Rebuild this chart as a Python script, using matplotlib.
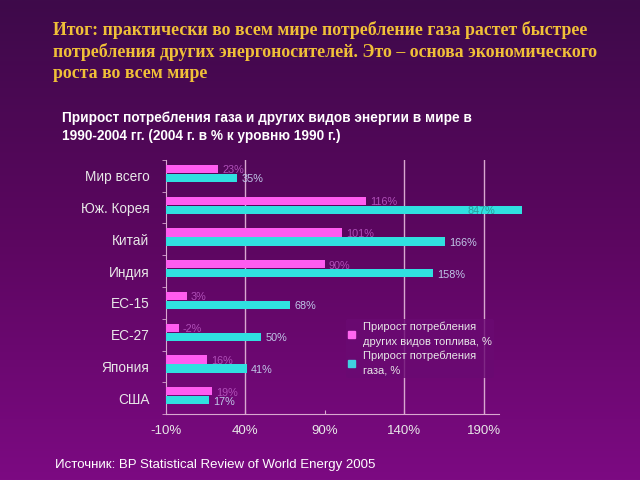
import matplotlib
matplotlib.use("Agg")
import matplotlib.pyplot as plt
import numpy as np
from matplotlib.colors import LinearSegmentedColormap
from matplotlib.patches import Patch

categories = ["Мир всего", "Юж. Корея", "Китай", "Индия", "ЕС-15", "ЕС-27", "Япония", "США"]
other_fuels = [23, 116, 101, 90, 3, -2, 16, 19]
gas = [35, 847, 166, 158, 68, 50, 41, 17]
other_labels = ["23%", "116%", "101%", "90%", "3%", "-2%", "16%", "19%"]
gas_labels = ["35%", "847%", "166%", "158%", "68%", "50%", "41%", "17%"]
xticks = [-10, 40, 90, 140, 190]
xtick_labels = ["-10%", "40%", "90%", "140%", "190%"]
grid_x = [40, 140, 190]

plt.rcParams['font.family'] = ['Liberation Sans', 'DejaVu Sans']

fig = plt.figure(figsize=(6.4, 4.8), dpi=100)

# background gradient
bg = fig.add_axes([0, 0, 1, 1], zorder=-10)
cmap = LinearSegmentedColormap.from_list("bg", ["#3e0a4a", "#5c0660", "#7c0a82"])
grad = np.linspace(0, 1, 256).reshape(-1, 1)
bg.imshow(grad, aspect='auto', cmap=cmap, extent=[0, 1, 0, 1], origin='upper')
bg.axis('off')

ax = fig.add_axes([166/640, 66/480, 356/640, 254/480])
ax.patch.set_alpha(0)

y = np.arange(len(categories))
h = 0.26
base = -10
mag_color = "#ff5cf0"
cyan_color = "#30e0e0"

ax.barh(y - 0.22, np.array(other_fuels) - base, left=base, height=h, color=mag_color, zorder=3)
ax.barh(y + 0.07, np.array(gas) - base, left=base, height=h, color=cyan_color, zorder=3)

xmax = 214.2
ax.set_xlim(-10, xmax)
ax.set_ylim(len(categories) - 0.5, -0.5)

for xi in grid_x:
    ax.axvline(xi, color="#d8a8d0", lw=1, zorder=1)

for i in range(len(categories)):
    ax.annotate(other_labels[i], (other_fuels[i], y[i] - 0.22), xytext=(3, -1),
                textcoords='offset points', va='center', ha='left',
                fontsize=7.8, color="#b050b8", zorder=4)
    if gas[i] > 200:
        ax.text(180, y[i] + 0.07 + 0.03, gas_labels[i], va='center', ha='left',
                fontsize=7.8, color="#2a9a9a", zorder=4)
    else:
        ax.annotate(gas_labels[i], (gas[i], y[i] + 0.07), xytext=(3, -1),
                    textcoords='offset points', va='center', ha='left',
                    fontsize=7.8, color="#c0c8e8", zorder=4)

ax.set_xticks(xticks)
ax.set_xticklabels(xtick_labels, fontsize=9.5, color="#e8e8e8")
ax.set_yticks(y)
ax.set_yticklabels(categories, fontsize=9.8, color="#e8e8e8")
ax.tick_params(axis='y', length=0, pad=12)
ax.tick_params(axis='x', length=3, direction='in', color="#d8a8d0", pad=8)
ax.set_yticks(np.arange(len(categories) + 1) - 0.5, minor=True)
ax.tick_params(axis='y', which='minor', length=3, direction='out', color="#d8a8d0")

for s in ['top', 'right']:
    ax.spines[s].set_visible(False)
ax.spines['bottom'].set_bounds(-10, 200)
ax.spines['bottom'].set_color("#d8a8d0")
ax.spines['left'].set_color("#d8a8d0")

handles = [Patch(color="#ff66f0", label="Прирост потребления\nдругих видов топлива, %"),
           Patch(color="#40d0e0", label="Прирост потребления\nгаза, %")]
leg = ax.legend(handles=handles, loc='upper left', bbox_to_anchor=(0.49, 0.395),
                frameon=True, fontsize=8, labelcolor="#e8e8e8", handlelength=0.6,
                handleheight=0.6, handletextpad=0.7, borderpad=0.2, labelspacing=0.35)
for t in leg.get_texts():
    t.set_linespacing(1.6)
leg.get_frame().set_facecolor("#6a0a72")
leg.get_frame().set_edgecolor("none")
leg.set_zorder(5)

fig.text(53/640, 1 - 21/480, "Итог: практически во всем мире потребление газа растет быстрее\n"
         "потребления других энергоносителей. Это – основа экономического\n"
         "роста во всем мире", family=['Liberation Serif'], fontsize=12.8, weight='bold',
         color="#f0c038", va='top', ha='left', linespacing=1.3)
fig.text(62/640, 1 - 127/480, "Прирост потребления газа и других видов энергии в мире в\n"
         "1990-2004 гг. (2004 г. в % к уровню 1990 г.)", fontsize=9.8, weight='bold',
         color="white", va='center', ha='left', linespacing=1.3)
fig.text(55/640, 1 - 465/480, "Источник: BP Statistical Review of World Energy 2005",
         fontsize=9.5, color="white", va='center', ha='left')

fig.savefig("out.png", dpi=100)
